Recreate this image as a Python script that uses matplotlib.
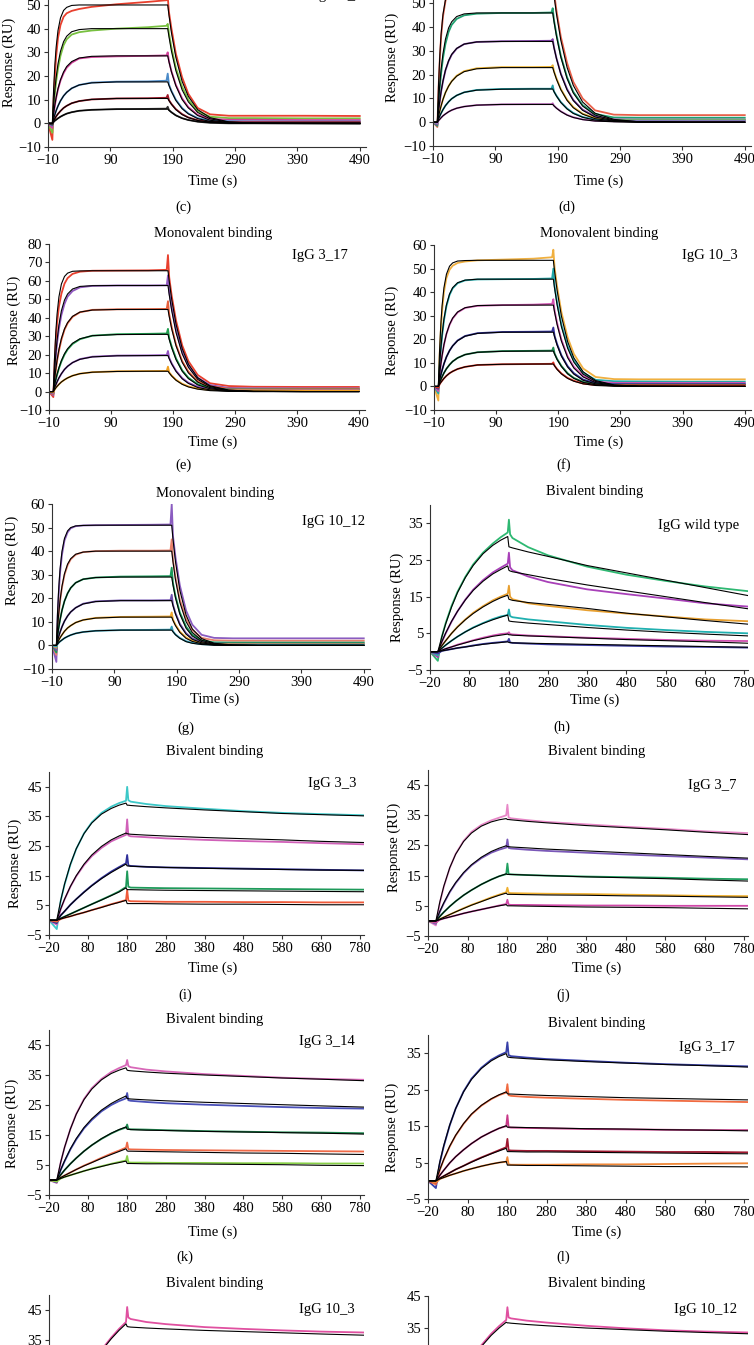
import matplotlib
matplotlib.use("Agg")
import matplotlib.pyplot as plt

plt.rcParams['font.family'] = ['Liberation Serif', 'DejaVu Serif']

# time grids (s)
mono_t = [-10, -3, -1, 1, 3, 6, 10, 15, 20, 28, 40, 60, 100, 150, 180, 182,
          184, 188, 195, 205, 215, 230, 250, 280, 320, 400, 490]
biv_t = [-20, 0, 10, 20, 35, 50, 70, 90, 115, 140, 160, 178, 181, 184, 190,
         230, 280, 380, 480, 580, 680, 790]
mono_xticks = [-10, 90, 190, 290, 390, 490]
biv_xticks = [-20, 80, 180, 280, 380, 480, 580, 680, 780]

# (c) IgG 3_7, monovalent
c_fit = [
    [0, 0, 14.4, 24.7, 32.0, 39.2, 44.5, 47.7, 49.0, 49.8, 50, 50, 50, 50, 50, 50, 45.7, 38.2, 27.9, 17.8, 11.4, 5.8, 2.4, 0.6, 0.1, 0, 0],
    [0, 0, 7.9, 14.2, 19.3, 25.1, 30.4, 34.5, 36.8, 38.7, 39.6, 40, 40, 40, 40, 40, 36.6, 30.5, 22.3, 14.2, 9.1, 4.6, 1.9, 0.5, 0.1, 0, 0],
    [0, 0, 4.2, 7.8, 10.9, 14.6, 18.4, 21.7, 24.0, 26.1, 27.6, 28.3, 28.5, 28.5, 28.5, 28.5, 26.0, 21.7, 15.9, 10.1, 6.5, 3.3, 1.3, 0.3, 0.1, 0, 0],
    [0, 0, 2.0, 3.7, 5.3, 7.3, 9.5, 11.6, 13.1, 14.8, 16.2, 17.1, 17.5, 17.5, 17.5, 17.5, 16.0, 13.4, 9.7, 6.2, 4.0, 2.0, 0.8, 0.2, 0, 0, 0],
    [0, 0, 1.1, 2.0, 2.9, 4.0, 5.2, 6.5, 7.4, 8.5, 9.4, 10.1, 10.5, 10.5, 10.5, 10.5, 9.6, 8.0, 5.8, 3.7, 2.4, 1.2, 0.5, 0.1, 0, 0, 0],
    [0, 0, 0.6, 1.1, 1.5, 2.1, 2.8, 3.5, 4.1, 4.7, 5.3, 5.7, 6, 6, 6, 6, 5.5, 4.6, 3.3, 2.1, 1.4, 0.7, 0.3, 0.1, 0, 0, 0],
]
c_data = [
    [0, -7, 10, 20, 28, 36, 41.5, 45, 46.5, 47.5, 48.3, 49.2, 50.3, 51.3, 52, 53.5, 47, 40, 29.5, 19.5, 12.5, 6.5, 3.8, 3.2, 3.2, 3.2, 3.1],
    [0, -4, 6.5, 12.5, 17.5, 23, 28.5, 33, 35.5, 37.5, 38.5, 39.2, 40, 40.6, 41.2, 42, 38, 32, 23.5, 15.5, 10, 5.2, 2.8, 2.2, 2.2, 2.1, 2.1],
    [0, -2, 4, 7.5, 10.5, 14.3, 18, 21.2, 23.5, 25.6, 27.4, 28, 28.3, 28.5, 28.7, 30, 26.3, 22, 16.3, 10.6, 6.9, 3.6, 1.9, 1.5, 1.5, 1.4, 1.4],
    [0, -1, 2, 3.7, 5.3, 7.3, 9.5, 11.6, 13.1, 14.8, 16.2, 17.2, 17.6, 17.7, 18, 21, 16.4, 13.7, 10, 6.5, 4.2, 2.2, 1.1, 0.9, 0.8, 0.8, 0.8],
    [0, -0.5, 1.1, 2, 2.9, 4, 5.2, 6.5, 7.4, 8.5, 9.4, 10.1, 10.5, 10.6, 10.8, 12, 9.8, 8.2, 6, 3.9, 2.5, 1.3, 0.6, 0.5, 0.5, 0.5, 0.5],
    [0, -0.5, 0.6, 1.1, 1.5, 2.1, 2.8, 3.5, 4.1, 4.7, 5.3, 5.7, 6, 6.1, 6.2, 7, 5.6, 4.7, 3.4, 2.2, 1.4, 0.7, 0.2, 0, 0, -0.1, -0.2],
]
c_colors = ['#e8402e', '#78c040', '#d0409a', '#4a8ac8', '#a01828', '#303030']

# (d) IgG 3_14, monovalent
d_fit = [
    [0, 0, 16.7, 28.6, 37.1, 45.4, 51.6, 55.3, 56.8, 57.7, 57.9, 58, 58, 58, 58, 58, 53.5, 45.6, 34.5, 23.1, 15.5, 8.5, 3.8, 1.2, 0.2, 0, 0],
    [0, 0, 9.1, 16.4, 22.2, 28.9, 35.0, 39.7, 42.3, 44.5, 45.6, 46, 46, 46, 46, 46, 42.5, 36.2, 27.4, 18.4, 12.3, 6.8, 3.0, 0.9, 0.2, 0, 0],
    [0, 0, 5.0, 9.3, 13.0, 17.4, 22.0, 25.9, 28.6, 31.1, 32.9, 33.8, 34, 34, 34, 34, 31.4, 26.8, 20.2, 13.6, 9.1, 5.0, 2.2, 0.7, 0.1, 0, 0],
    [0, 0, 2.6, 4.9, 6.9, 9.6, 12.5, 15.2, 17.2, 19.4, 21.3, 22.5, 23, 23, 23, 23, 21.2, 18.1, 13.7, 9.2, 6.1, 3.4, 1.5, 0.5, 0.1, 0, 0],
    [0, 0, 1.4, 2.7, 3.8, 5.3, 7.0, 8.6, 9.9, 11.3, 12.6, 13.5, 13.9, 14, 14, 14, 12.9, 11.0, 8.3, 5.6, 3.7, 2.1, 0.9, 0.3, 0.1, 0, 0],
    [0, 0, 0.7, 1.3, 1.9, 2.7, 3.5, 4.4, 5.1, 5.9, 6.6, 7.2, 7.5, 7.5, 7.5, 7.5, 6.9, 5.9, 4.5, 3.0, 2.0, 1.1, 0.5, 0.2, 0, 0, 0],
]
d_data = [
    [0, -2, 15, 27, 36, 44.5, 51, 55, 56.8, 57.8, 58.2, 58.5, 58.8, 59, 59.2, 60, 55, 47, 36, 25, 17, 10, 5, 3.2, 3, 3, 3],
    [0, -1.5, 8, 15, 20.5, 27, 33, 38, 41, 43.5, 45, 45.7, 46, 46, 46.2, 48, 43, 37, 28, 19, 12.8, 7.2, 3.5, 2, 1.9, 1.9, 1.9],
    [0, -1, 4.8, 9, 12.8, 17.2, 21.8, 25.7, 28.4, 31, 32.9, 33.8, 34.1, 34.2, 34.3, 35, 31.6, 27, 20.5, 14, 9.4, 5.3, 2.4, 1.2, 1.1, 1.1, 1.1],
    [0, -0.5, 2.6, 4.9, 6.9, 9.6, 12.5, 15.2, 17.3, 19.6, 21.5, 22.7, 23.2, 23.2, 23.3, 24, 21.5, 18.5, 14, 9.5, 6.4, 3.6, 1.7, 1, 1, 1, 1],
    [0, -0.5, 1.4, 2.7, 3.8, 5.3, 7, 8.6, 9.9, 11.3, 12.6, 13.6, 14, 14.1, 14.1, 15.5, 13, 11.2, 8.5, 5.8, 3.9, 2.2, 1.1, 0.8, 0.8, 0.8, 0.8],
    [0, -0.3, 0.7, 1.3, 1.9, 2.7, 3.5, 4.4, 5.1, 5.9, 6.6, 7.2, 7.5, 7.6, 7.6, 8, 7, 6, 4.6, 3.1, 2.1, 1.2, 0.6, 0.4, 0.4, 0.4, 0.4],
]
d_colors = ['#e8604a', '#20a070', '#8040a8', '#e8b030', '#20a0a8', '#c060c0']

# (e) IgG 3_17, monovalent
e_fit = [
    [0, 0, 18.9, 32.3, 41.9, 51.3, 58.3, 62.4, 64.2, 65.2, 65.4, 65.5, 65.5, 65.5, 65.5, 65.5, 59.9, 50.0, 36.5, 23.3, 14.9, 7.5, 3.1, 0.8, 0.1, 0, 0],
    [0, 0, 11.3, 20.5, 27.8, 36.1, 43.8, 49.6, 52.9, 55.6, 57.0, 57.4, 57.5, 57.5, 57.5, 57.5, 52.6, 43.9, 32.0, 20.4, 13.1, 6.6, 2.7, 0.7, 0.1, 0, 0],
    [0, 0, 6.6, 12.2, 17.0, 22.8, 28.8, 34.0, 37.4, 40.8, 43.1, 44.2, 44.5, 44.5, 44.5, 44.5, 40.7, 34.0, 24.8, 15.8, 10.1, 5.1, 2.1, 0.5, 0.1, 0, 0],
    [0, 0, 3.5, 6.6, 9.4, 12.9, 16.8, 20.5, 23.2, 26.2, 28.6, 30.3, 30.9, 31, 31, 31, 28.3, 23.7, 17.3, 11.0, 7.0, 3.6, 1.5, 0.4, 0.1, 0, 0],
    [0, 0, 2.0, 3.7, 5.3, 7.4, 9.7, 12.0, 13.7, 15.7, 17.5, 18.8, 19.4, 19.5, 19.5, 19.5, 17.8, 14.9, 10.9, 6.9, 4.4, 2.2, 0.9, 0.2, 0, 0, 0],
    [0, 0, 1.0, 2.0, 2.8, 3.9, 5.2, 6.4, 7.4, 8.6, 9.7, 10.5, 10.9, 11, 11, 11, 10.1, 8.4, 6.1, 3.9, 2.5, 1.3, 0.5, 0.1, 0, 0, 0],
]
e_data = [
    [0, -3, 15, 28, 37, 46, 53, 58.5, 61.5, 63.8, 65, 65.5, 65.6, 65.7, 66, 74, 62, 52, 38.5, 25, 16.5, 9, 4.5, 3, 2.6, 2.5, 2.5],
    [0, -2, 10, 19, 26, 34, 41.5, 47.5, 51.5, 54.5, 56.5, 57.3, 57.5, 57.5, 57.6, 63, 54, 45.5, 33.5, 21.5, 14, 7.5, 3.5, 2, 1.8, 1.7, 1.7],
    [0, -1.5, 6, 11.5, 16.5, 22, 28, 33.5, 37, 40.5, 43, 44.3, 44.6, 44.7, 44.8, 49, 42, 35, 25.5, 16.5, 10.8, 5.6, 2.8, 1.6, 1.5, 1.4, 1.4],
    [0, -1, 3.2, 6.3, 9, 12.5, 16.3, 20, 22.8, 25.8, 28.4, 30.3, 31.1, 31.3, 31.5, 34, 29, 24.5, 18, 11.5, 7.5, 4, 2, 1.2, 1.2, 1.1, 1.1],
    [0, -1, 1.8, 3.5, 5.2, 7.3, 9.6, 12, 13.7, 15.7, 17.6, 18.9, 19.5, 19.6, 19.8, 22, 18.3, 15.3, 11.3, 7.3, 4.8, 2.6, 1.4, 1, 1, 0.9, 0.9],
    [0, -0.5, 1.0, 2.0, 2.8, 3.9, 5.2, 6.4, 7.4, 8.6, 9.7, 10.5, 11, 11.1, 11.2, 13.5, 10.4, 8.7, 6.4, 4.2, 2.8, 1.6, 0.9, 0.7, 0.7, 0.6, 0.6],
]
e_colors = ['#e8402e', '#9058c0', '#e8603c', '#20a050', '#9050c0', '#f0a020']

# (f) IgG 10_3, monovalent
f_fit = [
    [0, 0, 15.4, 26.4, 34.2, 41.9, 47.6, 51.0, 52.4, 53.2, 53.4, 53.5, 53.5, 53.5, 53.5, 53.5, 48.9, 40.8, 29.8, 19.0, 12.1, 6.2, 2.5, 0.6, 0.1, 0, 0],
    [0, 0, 9.0, 16.2, 22.0, 28.6, 34.6, 39.2, 41.9, 44.0, 45.1, 45.5, 45.5, 45.5, 45.5, 45.5, 41.6, 34.7, 25.3, 16.2, 10.3, 5.2, 2.1, 0.5, 0.1, 0, 0],
    [0, 0, 5.1, 9.5, 13.1, 17.7, 22.3, 26.3, 29.0, 31.6, 33.4, 34.3, 34.5, 34.5, 34.5, 34.5, 31.5, 26.3, 19.2, 12.2, 7.8, 4.0, 1.6, 0.4, 0.1, 0, 0],
    [0, 0, 2.6, 4.9, 6.9, 9.6, 12.5, 15.2, 17.2, 19.4, 21.3, 22.5, 23, 23, 23, 23, 21.0, 17.5, 12.8, 8.2, 5.2, 2.6, 1.1, 0.3, 0, 0, 0],
    [0, 0, 1.5, 2.9, 4.1, 5.7, 7.5, 9.2, 10.6, 12.1, 13.5, 14.5, 14.9, 15, 15, 15, 13.7, 11.4, 8.4, 5.3, 3.4, 1.7, 0.7, 0.2, 0, 0, 0],
    [0, 0, 0.9, 1.7, 2.4, 3.4, 4.5, 5.6, 6.4, 7.4, 8.3, 9.1, 9.4, 9.5, 9.5, 9.5, 8.7, 7.2, 5.3, 3.4, 2.2, 1.1, 0.4, 0.1, 0, 0, 0],
]
f_data = [
    [0, -6, 13, 24, 32, 40, 46, 49.5, 51.2, 52.4, 53, 53.5, 53.8, 54.2, 54.8, 58, 50.5, 42.5, 31.5, 20.8, 13.8, 7.6, 4, 3.1, 3, 3, 3],
    [0, -3, 8.5, 15.5, 21.3, 28, 34, 38.8, 41.6, 43.8, 45, 45.4, 45.5, 45.6, 45.8, 50, 42.5, 35.6, 26.2, 17, 11, 5.8, 2.8, 2.2, 2.1, 2, 2],
    [0, -2, 5, 9.4, 13, 17.6, 22.2, 26.1, 28.8, 31.4, 33.3, 34.2, 34.5, 34.7, 35, 37, 32.2, 27, 19.8, 12.8, 8.3, 4.4, 2, 1.5, 1.5, 1.5, 1.5],
    [0, -1, 2.6, 4.9, 6.9, 9.6, 12.5, 15.2, 17.2, 19.5, 21.4, 22.6, 23.1, 23.2, 23.3, 25, 21.5, 18, 13.2, 8.6, 5.6, 2.9, 1.4, 1, 1, 1, 1],
    [0, -0.5, 1.5, 2.9, 4.1, 5.7, 7.5, 9.2, 10.6, 12.1, 13.5, 14.5, 15, 15.1, 15.2, 16.5, 14, 11.7, 8.7, 5.6, 3.6, 1.9, 0.9, 0.7, 0.7, 0.7, 0.7],
    [0, -0.5, 0.9, 1.7, 2.4, 3.4, 4.5, 5.6, 6.4, 7.4, 8.3, 9.1, 9.4, 9.5, 9.6, 10.2, 8.8, 7.4, 5.5, 3.6, 2.4, 1.2, 0.6, 0.5, 0.5, 0.5, 0.5],
]
f_colors = ['#f0b040', '#20a8a8', '#d050b0', '#30309a', '#1a8a50', '#e03020']

# (g) IgG 10_12, monovalent
g_fit = [
    [0, 0, 14.7, 25.1, 32.6, 39.9, 45.4, 48.6, 50.0, 50.7, 50.9, 51, 51, 51, 51, 51, 45.2, 35.6, 23.4, 12.9, 7.0, 2.9, 0.9, 0.2, 0, 0, 0],
    [0, 0, 7.9, 14.2, 19.3, 25.1, 30.4, 34.5, 36.8, 38.7, 39.6, 40, 40, 40, 40, 40, 35.5, 27.9, 18.3, 10.1, 5.5, 2.2, 0.7, 0.1, 0, 0, 0],
    [0, 0, 4.3, 7.9, 11.0, 14.9, 18.8, 22.1, 24.4, 26.6, 28.1, 28.8, 29, 29, 29, 29, 25.7, 20.2, 13.3, 7.3, 4.0, 1.6, 0.5, 0.1, 0, 0, 0],
    [0, 0, 2.1, 4.0, 5.7, 7.9, 10.3, 12.5, 14.2, 16.0, 17.6, 18.6, 19, 19, 19, 19, 16.9, 13.3, 8.7, 4.8, 2.6, 1.1, 0.3, 0.1, 0, 0, 0],
    [0, 0, 1.2, 2.3, 3.3, 4.5, 6.0, 7.4, 8.4, 9.7, 10.8, 11.6, 12, 12, 12, 12, 10.6, 8.4, 5.5, 3.0, 1.7, 0.7, 0.2, 0, 0, 0, 0],
    [0, 0, 0.6, 1.2, 1.7, 2.3, 3.1, 3.8, 4.4, 5.1, 5.7, 6.2, 6.5, 6.5, 6.5, 6.5, 5.8, 4.5, 3.0, 1.6, 0.9, 0.4, 0.1, 0, 0, 0, 0],
]
g_data = [
    [0, -7, 12, 23, 31, 38.5, 44.5, 48, 49.7, 50.6, 50.9, 51, 51.1, 51.2, 51.3, 60, 46.5, 37.5, 25.5, 14.8, 8.8, 4.5, 3.2, 3, 3, 3, 3],
    [0, -4, 7.5, 13.8, 18.8, 24.6, 29.9, 34, 36.5, 38.5, 39.6, 40, 40.2, 40.2, 40.3, 45, 36.5, 29, 19.5, 11.3, 6.6, 3.2, 2.2, 2, 2, 2, 2],
    [0, -3, 4.3, 7.9, 11, 14.9, 18.8, 22.1, 24.4, 26.6, 28.1, 28.8, 29.2, 29.3, 29.4, 33, 26.5, 21, 14, 8, 4.6, 2.1, 1.3, 1.2, 1.2, 1.2, 1.2],
    [0, -2, 2.1, 4, 5.7, 7.9, 10.3, 12.5, 14.2, 16, 17.7, 18.7, 19.1, 19.1, 19.2, 21.5, 17.3, 13.8, 9.2, 5.2, 3, 1.4, 0.8, 0.7, 0.7, 0.7, 0.7],
    [0, -1, 1.2, 2.3, 3.3, 4.5, 6, 7.4, 8.4, 9.7, 10.8, 11.7, 12.1, 12.2, 12.3, 14, 11, 8.8, 5.9, 3.4, 2, 1, 0.6, 0.5, 0.5, 0.5, 0.5],
    [0, -0.5, 0.6, 1.2, 1.7, 2.3, 3.1, 3.8, 4.4, 5.1, 5.7, 6.2, 6.5, 6.6, 6.7, 8, 6, 4.7, 3.2, 1.8, 1.1, 0.5, 0.3, 0.3, 0.3, 0.3, 0.3],
]
g_colors = ['#8a5cc0', '#e8806a', '#1a9a5a', '#7050b0', '#f0a830', '#30a0b8']

# (h) IgG wild type, bivalent
h_fit = [
    [0, 0, 4.0, 7.6, 12.2, 16.1, 20.2, 23.5, 26.7, 29.0, 30.4, 31.4, 28.6, 28.5, 28.3, 27.2, 26.0, 23.5, 21.5, 19.5, 17.5, 15.3],
    [0, 0, 2.7, 5.1, 8.3, 11.0, 14.1, 16.7, 19.2, 21.2, 22.4, 23.4, 22.2, 22.0, 21.8, 21.0, 20.0, 18.2, 16.6, 15.0, 13.4, 11.7],
    [0, 0, 1.6, 3.0, 5.0, 6.7, 8.7, 10.4, 12.2, 13.7, 14.7, 15.4, 14.3, 14.2, 14.0, 13.4, 12.9, 11.8, 10.5, 9.5, 8.5, 7.5],
    [0, 0, 0.9, 1.8, 3.0, 4.1, 5.4, 6.5, 7.7, 8.7, 9.4, 10.0, 8.4, 8.3, 8.2, 7.8, 7.4, 6.6, 5.9, 5.3, 4.8, 4.3],
    [0, 0, 0.4, 0.8, 1.3, 1.8, 2.4, 3.0, 3.6, 4.2, 4.5, 4.8, 4.6, 4.6, 4.5, 4.3, 4.1, 3.7, 3.3, 3.0, 2.7, 2.3],
    [0, 0, 0.2, 0.4, 0.7, 1.0, 1.3, 1.6, 2.0, 2.3, 2.5, 2.7, 2.5, 2.5, 2.4, 2.3, 2.2, 2.0, 1.8, 1.6, 1.4, 1.2],
]
h_data = [
    [0, -2.5, 4, 7.8, 12.5, 16.3, 20.4, 23.8, 27, 29.5, 31.2, 32.5, 36, 32, 31, 28.5, 26.3, 23.2, 21, 19.3, 17.8, 16.5],
    [0, -1.5, 2.6, 5, 8.2, 11, 14.2, 16.9, 19.5, 21.6, 22.9, 24, 27, 23, 22.2, 20.5, 19, 17, 15.7, 14.5, 13.2, 12.3],
    [0, -1, 1.6, 3, 5, 6.8, 8.8, 10.6, 12.4, 14, 15, 15.8, 18, 15, 14.3, 13.2, 12.5, 11.3, 10.4, 9.6, 8.8, 8.3],
    [0, -1, 0.9, 1.8, 3, 4.1, 5.4, 6.6, 7.8, 8.9, 9.6, 10, 11.5, 9.7, 9.4, 8.8, 8.3, 7.3, 6.5, 5.9, 5.4, 5],
    [0, -0.5, 0.4, 0.8, 1.3, 1.9, 2.5, 3.1, 3.8, 4.4, 4.8, 5, 5.3, 4.8, 4.7, 4.4, 4.2, 3.8, 3.5, 3.2, 3, 2.9],
    [0, -0.5, 0.2, 0.4, 0.7, 1, 1.3, 1.7, 2.1, 2.4, 2.6, 2.8, 3.5, 2.5, 2.4, 2.2, 2, 1.8, 1.6, 1.4, 1.3, 1.1],
]
h_colors = ['#2eb872', '#a840b8', '#e8a030', '#20b0b0', '#d050b0', '#3a3aa0']

# (i) IgG 3_3, bivalent
i_fit = [
    [0, 0, 6.6, 12.2, 18.9, 24.1, 29.2, 32.8, 35.8, 37.7, 38.8, 39.5, 38.8, 38.8, 38.7, 38.3, 37.9, 37.2, 36.6, 36.0, 35.6, 35.2],
    [0, 0, 3.8, 7.1, 11.4, 15.0, 18.9, 22.0, 24.9, 27.1, 28.4, 29.4, 29.2, 29.1, 29.0, 28.7, 28.4, 27.9, 27.5, 27.1, 26.6, 26.2],
    [0, 0, 1.6, 3.0, 5.2, 7.1, 9.4, 11.6, 14.0, 16.1, 17.6, 18.9, 18.3, 18.3, 18.2, 18.0, 17.8, 17.5, 17.3, 17.1, 16.9, 16.8],
    [0, 0, 0.6, 1.2, 2.1, 3.0, 4.2, 5.4, 6.8, 8.3, 9.5, 10.9, 10.3, 10.3, 10.3, 10.2, 10.1, 10.0, 9.9, 9.8, 9.7, 9.6],
    [0, 0, 0.4, 0.8, 1.3, 1.9, 2.6, 3.4, 4.3, 5.3, 6.0, 6.7, 5.6, 5.6, 5.6, 5.6, 5.5, 5.4, 5.4, 5.3, 5.2, 5.2],
]
i_data = [
    [0, -3, 6.5, 12, 18.7, 24, 29.3, 33, 36.2, 38.3, 39.5, 40.3, 45, 40.5, 40, 39.2, 38.5, 37.6, 36.8, 36.2, 35.8, 35.4],
    [0, -1.5, 3.7, 7, 11.3, 14.8, 18.6, 21.6, 24.4, 26.6, 27.8, 28.8, 34, 28.6, 28.3, 28, 27.6, 27.1, 26.7, 26.4, 26, 25.6],
    [0, -1, 1.6, 3, 5.2, 7.1, 9.5, 11.7, 14.2, 16.4, 17.9, 19.2, 22, 18.5, 18.3, 18, 17.8, 17.6, 17.4, 17.2, 17, 16.8],
    [0, -0.5, 0.6, 1.2, 2.1, 3, 4.2, 5.4, 6.9, 8.4, 9.7, 11.2, 16.5, 11.3, 11, 10.9, 10.8, 10.7, 10.6, 10.5, 10.4, 10.3],
    [0, -0.5, 0.4, 0.8, 1.3, 1.9, 2.6, 3.4, 4.4, 5.4, 6.1, 6.8, 10.2, 6.6, 6.4, 6.3, 6.2, 6.2, 6.1, 6.1, 6, 6],
]
i_colors = ['#3cc8c8', '#d060b8', '#30309a', '#1e9a5a', '#f05a3a']

# (j) IgG 3_7, bivalent
j_fit = [
    [0, 0, 6.3, 11.5, 17.6, 22.1, 26.3, 29.1, 31.4, 32.8, 33.5, 33.9, 33.6, 33.6, 33.5, 33.0, 32.5, 31.6, 30.9, 30.2, 29.4, 28.6],
    [0, 0, 3.2, 6.0, 9.7, 12.7, 16.0, 18.6, 21.1, 23.0, 24.1, 24.9, 24.6, 24.6, 24.5, 24.2, 23.8, 23.2, 22.6, 22.0, 21.4, 20.8],
    [0, 0, 1.5, 2.9, 4.8, 6.5, 8.5, 10.2, 12.1, 13.7, 14.8, 15.6, 15.4, 15.4, 15.4, 15.2, 15.0, 14.6, 14.3, 14.0, 13.6, 13.2],
    [0, 0, 0.6, 1.2, 2.1, 3.0, 4.1, 5.2, 6.4, 7.6, 8.5, 9.2, 8.8, 8.8, 8.8, 8.7, 8.6, 8.5, 8.3, 8.2, 8.0, 7.8],
    [0, 0, 0.4, 0.8, 1.3, 1.8, 2.5, 3.1, 3.8, 4.5, 5.0, 5.4, 5.0, 5.0, 5.0, 4.9, 4.8, 4.6, 4.5, 4.4, 4.2, 4.0],
]
j_data = [
    [0, -1.5, 6, 11.3, 17.5, 22.2, 26.5, 29.5, 31.8, 33.3, 34.2, 35, 38.5, 34.3, 34, 33.4, 32.8, 32, 31.2, 30.5, 29.7, 29.1],
    [0, -1, 3, 5.8, 9.5, 12.5, 15.8, 18.4, 20.8, 22.6, 23.6, 24.3, 27, 24.2, 24, 23.6, 23.2, 22.6, 22, 21.5, 21, 20.4],
    [0, -0.5, 1.5, 2.9, 4.8, 6.5, 8.5, 10.2, 12.1, 13.7, 14.8, 15.5, 19, 15.5, 15.4, 15.2, 15, 14.7, 14.5, 14.3, 14, 13.8],
    [0, -0.5, 0.6, 1.2, 2.1, 3, 4.2, 5.3, 6.5, 7.8, 8.7, 9.5, 11, 9.3, 9.2, 9.1, 9, 8.9, 8.7, 8.5, 8.3, 8.2],
    [0, -0.5, 0.4, 0.8, 1.3, 1.8, 2.5, 3.1, 3.8, 4.5, 5.1, 5.6, 7, 5.4, 5.3, 5.3, 5.2, 5.1, 5.1, 5, 5, 5],
]
j_colors = ['#e888c8', '#7a58b8', '#20a060', '#f0b030', '#d048a8']

# (k) IgG 3_14, bivalent
k_fit = [
    [0, 0, 5.9, 10.9, 17.0, 21.9, 26.8, 30.3, 33.4, 35.5, 36.6, 37.4, 36.6, 36.5, 36.4, 36.0, 35.6, 35.0, 34.5, 34.0, 33.6, 33.1],
    [0, 0, 3.4, 6.4, 10.4, 13.8, 17.5, 20.4, 23.3, 25.5, 26.9, 28.0, 27.2, 27.1, 27.0, 26.7, 26.4, 25.9, 25.5, 25.1, 24.7, 24.3],
    [0, 0, 1.7, 3.3, 5.4, 7.3, 9.6, 11.6, 13.8, 15.6, 16.8, 17.7, 16.9, 16.9, 16.8, 16.6, 16.5, 16.2, 16.0, 15.8, 15.6, 15.3],
    [0, 0, 0.8, 1.5, 2.5, 3.5, 4.7, 5.8, 7.2, 8.5, 9.5, 10.4, 9.7, 9.6, 9.6, 9.5, 9.4, 9.2, 9.0, 8.9, 8.7, 8.5],
    [0, 0, 0.5, 1.0, 1.6, 2.2, 3.0, 3.7, 4.5, 5.3, 5.8, 6.3, 5.5, 5.5, 5.5, 5.4, 5.4, 5.3, 5.2, 5.1, 4.9, 4.8],
]
k_data = [
    [0, -1, 5.8, 10.8, 17, 22, 27, 30.6, 33.7, 36, 37.3, 38.3, 40, 38, 37.6, 36.8, 36.2, 35.3, 34.7, 34.1, 33.7, 33.4],
    [0, -0.8, 3.3, 6.2, 10.2, 13.5, 17.2, 20, 22.9, 25, 26.3, 27.2, 29, 26.6, 26.4, 26, 25.6, 25.1, 24.7, 24.3, 24, 23.8],
    [0, -0.5, 1.7, 3.3, 5.4, 7.3, 9.6, 11.6, 13.7, 15.5, 16.7, 17.5, 18.5, 17, 16.9, 16.8, 16.6, 16.3, 16.1, 15.9, 15.8, 15.6],
    [0, -0.5, 0.8, 1.5, 2.5, 3.5, 4.8, 5.9, 7.4, 8.8, 9.8, 10.8, 12.5, 10.3, 10.2, 10.1, 10, 9.9, 9.8, 9.7, 9.6, 9.5],
    [0, -0.5, 0.5, 1, 1.6, 2.2, 3, 3.8, 4.6, 5.4, 6, 6.5, 8, 5.9, 5.8, 5.8, 5.7, 5.7, 5.6, 5.6, 5.5, 5.5],
]
k_colors = ['#d868b8', '#4a50b8', '#1e8a50', '#f06a48', '#88d048']

# (l) IgG 3_17, bivalent
l_fit = [
    [0, 0, 5.2, 9.7, 15.3, 19.8, 24.4, 27.8, 30.8, 32.9, 34.1, 34.9, 34.0, 33.9, 33.8, 33.5, 33.2, 32.7, 32.3, 31.9, 31.6, 31.2],
    [0, 0, 3.1, 5.9, 9.5, 12.5, 15.7, 18.3, 20.7, 22.5, 23.6, 24.4, 23.9, 23.8, 23.8, 23.6, 23.4, 23.1, 22.8, 22.6, 22.4, 22.2],
    [0, 0, 1.5, 2.9, 4.9, 6.6, 8.5, 10.2, 12.0, 13.4, 14.4, 15.1, 14.7, 14.7, 14.7, 14.6, 14.5, 14.3, 14.2, 14.0, 13.9, 13.7],
    [0, 0, 0.7, 1.3, 2.2, 3.1, 4.1, 5.1, 6.3, 7.4, 8.2, 8.9, 8.0, 8.0, 8.0, 7.9, 7.9, 7.8, 7.7, 7.6, 7.5, 7.4],
    [0, 0, 0.5, 0.9, 1.5, 2.0, 2.7, 3.3, 4.0, 4.6, 5.0, 5.3, 4.3, 4.3, 4.3, 4.2, 4.2, 4.1, 4.0, 3.9, 3.9, 3.8],
]
l_data = [
    [0, -2, 5, 9.5, 15.2, 19.8, 24.5, 28, 31, 33.2, 34.4, 35.3, 38, 34.5, 34.2, 33.8, 33.4, 32.9, 32.4, 32, 31.7, 31.4],
    [0, -1, 3, 5.8, 9.4, 12.4, 15.6, 18.2, 20.6, 22.4, 23.5, 24.2, 26.5, 23.5, 23.3, 23, 22.8, 22.5, 22.2, 22, 21.8, 21.6],
    [0, -0.5, 1.5, 2.9, 4.9, 6.6, 8.5, 10.2, 12, 13.4, 14.4, 15, 18, 14.7, 14.6, 14.5, 14.4, 14.2, 14.1, 14, 13.9, 13.9],
    [0, -0.5, 0.7, 1.3, 2.2, 3.1, 4.1, 5.2, 6.4, 7.5, 8.4, 9.2, 11.5, 8.4, 8.3, 8.2, 8.2, 8.1, 8, 7.9, 7.9, 7.8],
    [0, -0.5, 0.5, 0.9, 1.5, 2, 2.7, 3.3, 4, 4.6, 5, 5.2, 6.5, 4.5, 4.4, 4.4, 4.4, 4.5, 4.5, 4.6, 4.7, 4.8],
]
l_colors = ['#3840a8', '#f06a40', '#c83888', '#a01830', '#f08838']

# (m) IgG 10_3 and (n) IgG 10_12, bivalent (top curves only visible)
m_fit = [[0, 0, 3.8, 7.4, 12.3, 16.7, 21.9, 26.5, 31.4, 35.4, 38.2, 40.4, 39.5, 39.4, 39.3, 39.0, 38.7, 38.2, 37.8, 37.4, 37.0, 36.6]]
m_data = [[0, -1, 3.8, 7.4, 12.3, 16.8, 22, 26.7, 31.7, 35.8, 38.7, 41, 46, 42.5, 42, 41, 40.3, 39.3, 38.7, 38.2, 37.8, 37.5]]
m_colors = ['#e050a0']
n_fit = [[0, 0, 3.7, 7.2, 11.8, 16.0, 20.8, 24.9, 29.2, 32.7, 35.0, 36.8, 36.6, 36.6, 36.5, 36.1, 35.7, 35.0, 34.5, 34.0, 33.6, 33.2]]
n_data = [[0, -1, 3.7, 7.2, 11.8, 16.1, 21, 25.2, 29.6, 33.2, 35.6, 37.5, 41.5, 38.3, 38, 37.3, 36.7, 35.7, 34.9, 34.3, 33.9, 33.6]]
n_colors = ['#e050a0']

W, H = 754, 1345
FS = 10.5
fig = plt.figure(figsize=(W / 100, H / 100), dpi=100)


def put(x, y, s, **kw):
    # place text by pixel position (from top-left)
    fig.text(x / W, 1 - y / H, s, ha='center', va='center', fontsize=FS, **kw)


def panel(box, t, data, fit, colors, xlim, xticks, ylim, yticks):
    x0, x1, ytop, ybot = box
    ax = fig.add_axes([x0 / W, 1 - ybot / H, (x1 - x0) / W, (ybot - ytop) / H])
    for d, c in zip(data, colors):
        ax.plot(t, d, color=c, lw=1.3)
    for f in fit:
        ax.plot(t, f, color='black', lw=0.8)
    ax.set_xlim(xlim)
    ax.set_ylim(ylim)
    ax.set_xticks(xticks)
    ax.set_yticks(yticks)
    for s in ['top', 'right']:
        ax.spines[s].set_visible(False)
    for s in ['left', 'bottom']:
        ax.spines[s].set_color('#333333')
        ax.spines[s].set_linewidth(0.8)
    ax.tick_params(direction='out', length=3, width=0.8, color='#333333',
                   labelsize=FS, pad=2)
    ax.patch.set_alpha(0)
    return ax


mono_y60 = list(range(-10, 61, 10))
biv_y45 = [-5, 5, 15, 25, 35, 45]

panel((48, 366, -18.7, 147), mono_t, c_data, c_fit, c_colors, (-10, 500), mono_xticks, (-10, 60), mono_y60)
panel((433, 751, -20.3, 146), mono_t, d_data, d_fit, d_colors, (-10, 500), mono_xticks, (-10, 60), mono_y60)
panel((49, 365, 244, 410), mono_t, e_data, e_fit, e_colors, (-10, 500), mono_xticks, (-10, 80), list(range(-10, 81, 10)))
panel((434, 751, 245, 410), mono_t, f_data, f_fit, f_colors, (-10, 500), mono_xticks, (-10, 60), mono_y60)
panel((52, 370, 504, 669), mono_t, g_data, g_fit, g_colors, (-10, 500), mono_xticks, (-10, 60), mono_y60)
panel((430, 748, 505, 670), biv_t, h_data, h_fit, h_colors, (-20, 790), biv_xticks, (-5, 40), [-5, 5, 15, 25, 35])
panel((49, 364, 772, 935), biv_t, i_data, i_fit, i_colors, (-20, 790), biv_xticks, (-5, 50), biv_y45)
panel((428, 748, 770, 936), biv_t, j_data, j_fit, j_colors, (-20, 790), biv_xticks, (-5, 50), biv_y45)
panel((49, 364, 1030, 1195), biv_t, k_data, k_fit, k_colors, (-20, 790), biv_xticks, (-5, 50), biv_y45)
panel((428, 748, 1035, 1199), biv_t, l_data, l_fit, l_colors, (-20, 790), biv_xticks, (-5, 40), [-5, 5, 15, 25, 35])
panel((49, 364, 1295, 1460), biv_t, m_data, m_fit, m_colors, (-20, 790), biv_xticks, (-5, 50), biv_y45)
panel((428, 748, 1296, 1456), biv_t, n_data, n_fit, n_colors, (-20, 790), biv_xticks, (-5, 45), biv_y45)

# titles
for x, y, s in [(213, 233, 'Monovalent binding'), (599, 233, 'Monovalent binding'),
                (215, 493, 'Monovalent binding'), (595, 492, 'Bivalent binding'),
                (215, 752, 'Bivalent binding'), (597, 752, 'Bivalent binding'),
                (215, 1020, 'Bivalent binding'), (597, 1023, 'Bivalent binding'),
                (215, 1283, 'Bivalent binding'), (597, 1283, 'Bivalent binding')]:
    put(x, y, s)

# antibody labels
for x, y, s in [(338, -5, 'IgG 3_7'), (320, 255, 'IgG 3_17'), (710, 255, 'IgG 10_3'),
                (333, 522, 'IgG 10_12'), (699, 525, 'IgG wild type'),
                (332, 783, 'IgG 3_3'), (712, 785, 'IgG 3_7'),
                (327, 1042, 'IgG 3_14'), (707, 1047, 'IgG 3_17'),
                (327, 1309, 'IgG 10_3'), (705, 1309, 'IgG 10_12')]:
    put(x, y, s)

# x labels
for x, y in [(213, 181), (599, 181), (213, 442), (599, 442), (215, 699), (595, 700),
             (213, 968), (597, 968), (213, 1232), (597, 1232)]:
    put(x, y, 'Time (s)')

# y labels
for x, y in [(9, 62), (392, 57), (14, 320), (392, 330), (12, 560), (397, 597),
             (15, 863), (394, 847), (12, 1123), (392, 1127)]:
    put(x, y, 'Response (RU)', rotation=90)

# panel letters
for x, y, s in [(183, 207, '(c)'), (567, 207, '(d)'), (183, 465, '(e)'), (564, 465, '(f)'),
                (186, 728, '(g)'), (562, 727, '(h)'), (185, 995, '(i)'), (563, 995, '(j)'),
                (185, 1257, '(k)'), (563, 1257, '(l)')]:
    put(x, y, s)

fig.savefig('out.png', dpi=100)
